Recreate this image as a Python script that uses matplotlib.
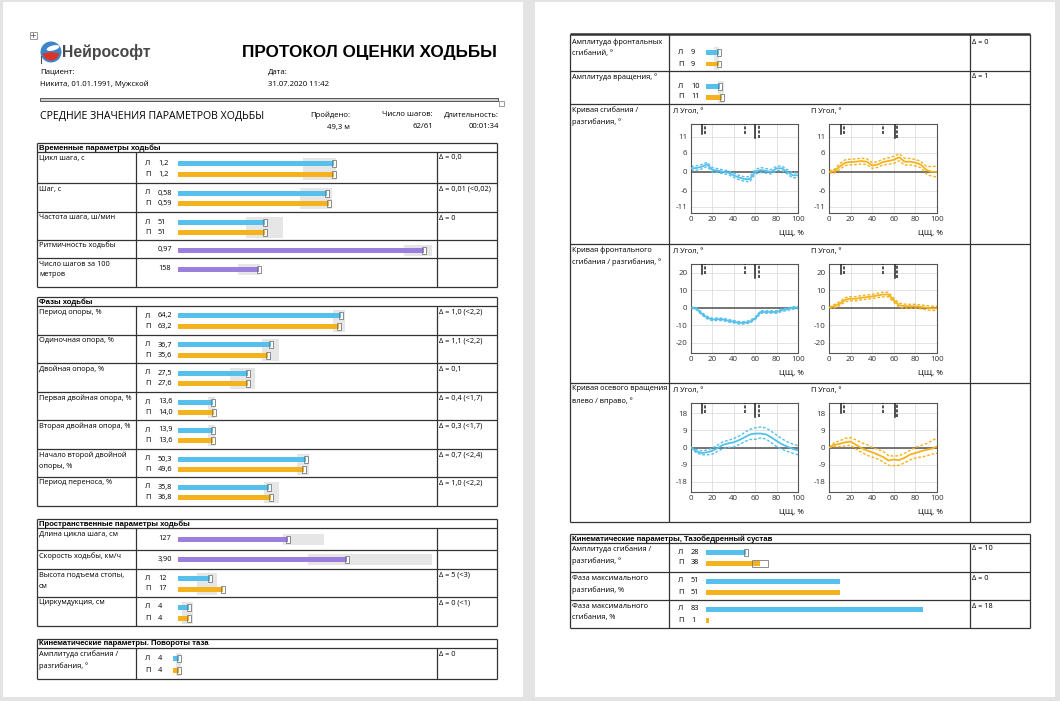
import matplotlib
matplotlib.use("Agg")
import matplotlib.pyplot as plt
from matplotlib.patches import Rectangle, Circle, Wedge, Ellipse

plt.rcParams['font.family'] = ['Open Sans', 'Noto Sans', 'DejaVu Sans']
plt.rcParams['axes.unicode_minus'] = False

# ---- данные: временные параметры
time_labels = ["Цикл шага, с", "Шаг, с", "Частота шага, ш/мин", "Ритмичность ходьбы", "Число шагов за 100\nметров"]
time_left = [1.2, 0.58, 51, 0.97, 158]
time_right = [1.2, 0.59, 51, None, None]
time_dec = [1, 2, 0, 2, 0]
time_scale = [1.95, 0.99, 149, 1.0, 495]
time_norm = [(0.96, 1.21), (0.475, 0.60), (40, 61.5), (0.89, 1.0), (117, 160)]
time_delta = ["Δ = 0,0", "Δ = 0,01 (<0,02)", "Δ = 0", "", ""]

# ---- фазы ходьбы
phase_labels = ["Период опоры, %", "Одиночная опора, %", "Двойная опора, %", "Первая двойная опора, %",
                "Вторая двойная опора, %", "Начало второй двойной\nопоры, %", "Период переноса, %"]
phase_left = [64.2, 36.7, 27.5, 13.6, 13.9, 50.3, 35.8]
phase_right = [63.2, 35.6, 27.6, 14.0, 13.6, 49.6, 36.8]
phase_norm = [(61, 65.7), (33, 39.8), (20.5, 30.3), (12, 14.7), (12, 14.7), (47, 51.6), (34, 39.8)]
phase_delta = ["Δ = 1,0 (<2,2)", "Δ = 1,1 (<2,2)", "Δ = 0,1", "Δ = 0,4 (<1,7)",
               "Δ = 0,3 (<1,7)", "Δ = 0,7 (<2,4)", "Δ = 1,0 (<2,2)"]

# ---- пространственные параметры
space_labels = ["Длина цикла шага, см", "Скорость ходьбы, км/ч", "Высота подъема стопы,\nсм", "Циркумдукция, см"]
space_left = [127, 3.90, 12, 4]
space_right = [None, None, 17, 4]
space_dec = [0, 2, 0, 0]
space_scale = [293, 5.86, 95, 92]
space_norm = [(121, 168), (3.0, 5.86), (7, 14.6), (1.5, 5.4)]
space_delta = ["", "", "Δ = 5 (<3)", "Δ = 0 (<1)"]

# ---- повороты таза
pelvis_labels = ["Амплитуда сгибания /\nразгибания, °", "Амплитуда фронтальных\nсгибаний, °", "Амплитуда вращения, °"]
pelvis_left = [4, 9, 10]
pelvis_right = [4, 9, 11]
pelvis_norm = [(2, 5.5), (6, 9.3), (8.5, 12.7)]
pelvis_delta = ["Δ = 0", "Δ = 0", "Δ = 1"]

# ---- тазобедренный сустав
hip_labels = ["Амплитуда сгибания /\nразгибания, °", "Фаза максимального\nразгибания, %", "Фаза максимального\nсгибания, %"]
hip_left = [28, 51, 83]
hip_right = [38, 51, 1]
hip_scale = [185, 100, 100]
hip_spread_right = [5.6, None, None]
hip_delta = ["Δ = 10", "Δ = 0", "Δ = 18"]

# ---- кривые (ЦШ, %)
pct = [0, 5, 10, 15, 20, 25, 30, 35, 40, 45, 50, 55, 60, 65, 70, 75, 80, 85, 90, 95, 100]
flex_l = [1.1, 1.2, 1.6, 2.4, 0.6, 0.4, 0.0, -0.3, -1.1, -1.8, -2.3, -2.3, 0.0, 0.6, 0.3, 0.0, 1.1, 1.1, 0.0, -1.1, -1.1]
flex_l_hi = [1.7, 1.9, 2.3, 3.0, 1.3, 1.0, 0.6, 0.3, -0.4, -1.1, -1.6, -1.5, 0.7, 1.4, 1.0, 0.7, 1.8, 1.8, 0.7, -0.3, -0.4]
flex_l_lo = [0.5, 0.5, 0.9, 1.7, -0.1, -0.2, -0.6, -0.9, -1.8, -2.5, -3.0, -3.1, -0.7, -0.2, -0.4, -0.7, 0.4, 0.4, -0.7, -1.9, -1.8]
flex_r = [0.0, 0.2, 1.7, 2.9, 3.1, 3.2, 3.4, 3.2, 2.0, 2.3, 3.1, 3.4, 3.8, 4.6, 3.2, 3.2, 2.9, 2.3, 0.6, 0.0, 0.0]
flex_r_hi = [0.3, 0.8, 2.6, 3.8, 4.0, 4.1, 4.3, 4.1, 2.9, 3.2, 4.0, 4.4, 4.9, 5.7, 4.3, 4.2, 3.9, 3.3, 1.8, 1.6, 1.8]
flex_r_lo = [-0.3, -0.4, 0.8, 2.0, 2.2, 2.3, 2.5, 2.3, 1.1, 1.4, 2.2, 2.4, 2.7, 3.5, 2.1, 2.2, 1.9, 1.3, -0.6, -1.4, -1.6]

front_l = [0.0, -0.6, -3.4, -5.7, -6.8, -6.6, -6.8, -7.5, -8.1, -8.7, -8.7, -8.1, -6.2, -2.5, -2.5, -2.5, -2.5, -1.5, -0.9, -0.2, 0.0]
front_l_hi = [0.3, 0.0, -2.7, -5.0, -6.1, -5.9, -6.1, -6.8, -7.4, -8.0, -8.0, -7.4, -5.5, -1.8, -1.8, -1.8, -1.8, -0.8, -0.2, 0.5, 0.6]
front_l_lo = [-0.3, -1.2, -4.1, -6.4, -7.5, -7.3, -7.5, -8.2, -8.8, -9.4, -9.4, -8.8, -6.9, -3.2, -3.2, -3.2, -3.2, -2.2, -1.6, -0.9, -0.6]
front_r = [0.0, 0.8, 2.3, 4.5, 5.1, 5.1, 5.7, 6.0, 6.4, 7.0, 7.5, 7.5, 4.2, 1.3, 0.9, 0.8, 0.8, 0.4, 0.0, -0.4, -0.4]
front_r_hi = [0.3, 1.8, 3.4, 5.7, 6.3, 6.3, 6.9, 7.2, 7.6, 8.3, 8.8, 8.8, 5.4, 2.5, 2.0, 1.9, 1.9, 1.5, 1.2, 0.8, 0.8]
front_r_lo = [-0.3, -0.2, 1.2, 3.3, 3.9, 3.9, 4.5, 4.8, 5.2, 5.7, 6.2, 6.2, 3.0, 0.1, -0.2, -0.3, -0.3, -0.7, -1.2, -1.6, -1.6]

rot_l = [0.0, -2.0, -2.9, -2.5, -1.7, -0.3, 1.4, 2.2, 2.7, 3.9, 5.3, 6.8, 7.3, 7.3, 6.9, 5.3, 3.4, 1.7, 0.5, -0.7, -1.5]
rot_l_hi = [0.0, -1.2, -1.7, -1.3, -0.3, 1.3, 3.0, 3.8, 4.7, 6.0, 7.8, 9.5, 10.3, 10.7, 10.3, 8.5, 6.5, 4.5, 3.0, 1.8, 1.0]
rot_l_lo = [0.0, -2.8, -3.8, -3.8, -3.5, -2.0, -0.5, 0.0, 0.3, 1.5, 3.0, 4.2, 4.3, 5.0, 4.5, 2.5, 0.5, -1.0, -2.0, -3.0, -3.8]
rot_r = [0.0, 1.4, 1.9, 2.7, 3.1, 1.4, -0.3, -1.5, -2.5, -3.7, -4.9, -6.8, -6.3, -6.6, -5.4, -3.7, -2.9, -2.0, -1.2, -0.7, 0.5]
rot_r_hi = [0.0, 2.5, 3.5, 4.8, 5.2, 4.0, 2.5, 1.5, 0.0, -1.0, -2.0, -4.2, -4.5, -4.3, -3.0, -1.5, 0.0, 1.0, 2.0, 3.5, 5.0]
rot_r_lo = [0.0, 0.5, 0.5, 0.8, 1.2, -0.8, -2.5, -4.0, -5.0, -6.0, -7.5, -9.3, -9.5, -9.3, -8.0, -6.5, -5.5, -5.0, -4.5, -3.5, -3.0]

marks_l = [(10, '-', False), (13, '--', False), (50, '--', False), (60, '-', True), (64, '--', True)]
marks_r = [(11, '-', False), (14, '--', False), (50, '--', False), (61, '-', True), (63, '--', True)]

BLUE = '#56c0ec'
ORANGE = '#f4b21d'
PURPLE = '#9b7fdc'
NORM = '#e6e6e6'
LINE = '#333333'
FS = 5.3
BOLD = ['Liberation Sans', 'DejaVu Sans']

W, H = 1060, 701
fig = plt.figure(figsize=(W / 100, H / 100), dpi=100)
fig.patch.set_facecolor('#e3e3e3')
bg = fig.add_axes([0, 0, 1, 1])
bg.set_xlim(0, W)
bg.set_ylim(H, 0)
bg.axis('off')
bg.add_patch(Rectangle((3, 2), 520, 695, facecolor='white', edgecolor='none'))
bg.add_patch(Rectangle((535, 2), 520, 695, facecolor='white', edgecolor='none'))


def fig_box(x0, y0, x1, y1):
    return [x0 / W, 1 - y1 / H, (x1 - x0) / W, (y1 - y0) / H]


def fmt(v, d):
    return f"{v:.{d}f}".replace('.', ',')


def hline(x0, x1, y, lw=0.9):
    bg.plot([x0, x1], [y, y], color=LINE, lw=lw, solid_capstyle='butt')


def vline(x, y0, y1, lw=0.9):
    bg.plot([x, x], [y0, y1], color=LINE, lw=lw, solid_capstyle='butt')


def table(x0, top, heights, header=None, top_lw=0.9):
    x1 = x0 + 460
    d1, d2 = x0 + 99, x0 + 400
    hline(x0, x1, top, top_lw)
    y = top
    if header:
        y = top + 9
        hline(x0, x1, y)
        bg.text(x0 + 2, top + 4.8, header, fontsize=5.6, fontweight='bold', family=BOLD, va='center')
    tops = []
    for h in heights:
        tops.append(y)
        y += h
        hline(x0, x1, y)
    vline(x0, top, y)
    vline(x1, top, y)
    vline(d1, tops[0], y)
    vline(d2, tops[0], y)
    return tops, d1, d2


def bar_row(d1, top, h, ys, vals, colors, scale, norm=None, spreads=None, start=42, width=254):
    ax = fig.add_axes(fig_box(d1 + start, top, d1 + start + width, top + h))
    ax.set_xlim(0, scale)
    ax.set_ylim(h, 0)
    ax.axis('off')
    if norm:
        ax.add_patch(Rectangle((norm[0], ys[0] - 5.5), norm[1] - norm[0], ys[-1] - ys[0] + 11,
                               facecolor=NORM, edgecolor='none', zorder=0))
    min_half = 2.0 * scale / width
    for i, (y, v, c) in enumerate(zip(ys, vals, colors)):
        ax.barh(y, v, height=5, left=0, color=c, zorder=2)
        sp = spreads[i] if spreads else 0
        if sp is None:
            continue
        half = max(sp, min_half)
        ax.add_patch(Rectangle((v - half, y - 3.5), 2 * half, 7, facecolor='white',
                               edgecolor='none', zorder=1))
        ax.add_patch(Rectangle((v - half, y - 3.5), 2 * half, 7, facecolor='none',
                               edgecolor='#7a7a7a', lw=0.6, zorder=3))


def row_texts(x0, top, label, d1, d2, delta, ys, lv, rv, label_dy=2.5):
    bg.text(x0 + 2, top + label_dy, label, fontsize=FS, va='top', linespacing=1.8)
    if delta:
        bg.text(d2 + 2, top + label_dy, delta, fontsize=FS, va='top')
    if rv is None:
        bg.text(d1 + 22, ys[0], lv, fontsize=FS, va='center')
    else:
        for y, s, v in zip(ys, ["Л", "П"], [lv, rv]):
            bg.text(d1 + 9, y, s, fontsize=FS, va='center')
            bg.text(d1 + 22, y, v, fontsize=FS, va='center')


# ---------------- левая страница: шапка
bg.add_patch(Rectangle((29.5, 31.5), 7, 7, facecolor='white', edgecolor='#888', lw=0.6))
bg.plot([31, 35], [35, 35], color='#666', lw=0.6)
bg.plot([33, 33], [33, 37], color='#666', lw=0.6)
bg.add_patch(Circle((51, 52), 10.5, facecolor='#3d85c6', edgecolor='none'))
bg.add_patch(Wedge((51, 52), 8.5, 10, 170, facecolor='#d8342c', edgecolor='none'))
bg.add_patch(Ellipse((53, 48), 13, 5, angle=-15, facecolor='white', edgecolor='none'))
bg.plot([40.5, 40.5], [56, 63], color='#555', lw=0.8)
bg.text(62, 52.5, "Нейрософт", fontsize=11.3, fontweight='bold', family=BOLD, color='#474747', va='center')
bg.text(497, 53, "ПРОТОКОЛ ОЦЕНКИ ХОДЬБЫ", fontsize=12.3, fontweight='bold', family=BOLD,
        ha='right', va='center')
bg.text(40, 72, "Пациент:", fontsize=5.6, va='center')
bg.text(40, 84, "Никита, 01.01.1991, Мужской", fontsize=5.6, va='center')
bg.text(268, 72, "Дата:", fontsize=5.6, va='center')
bg.text(268, 84, "31.07.2020 11:42", fontsize=5.6, va='center')
bg.add_patch(Rectangle((40, 98), 458, 3, facecolor='#cfcfcf', edgecolor='#555', lw=0.7))
bg.add_patch(Rectangle((499, 101), 4.5, 4.5, facecolor='white', edgecolor='#888', lw=0.6))
bg.text(40, 116, "СРЕДНИЕ ЗНАЧЕНИЯ ПАРАМЕТРОВ ХОДЬБЫ", fontsize=7.6, va='center')
for xr, t1, t2 in [(350, "Пройдено:", "49,3 м"), (433, "Число шагов:", "62/61"), (499, "Длительность:", "00:01:34")]:
    bg.text(xr, 115, t1, fontsize=5.6, ha='right', va='center')
    bg.text(xr, 127, t2, fontsize=5.6, ha='right', va='center')

# ---------------- таблица 1
X0 = 37
t1_h = [31, 29, 28, 18, 29]
tops, d1, d2 = table(X0, 143, t1_h, "Временные параметры ходьбы")
time_ys = [(11.5, 22.5), (10, 20.5), (10, 20.5), (10,), (11,)]
for i, top in enumerate(tops):
    ys = time_ys[i]
    if time_right[i] is None:
        vals, cols = [time_left[i]], [PURPLE]
        rv = None
    else:
        vals, cols = [time_left[i], time_right[i]], [BLUE, ORANGE]
        rv = fmt(time_right[i], time_dec[i])
    bar_row(d1, top, t1_h[i], ys, vals, cols, time_scale[i], time_norm[i])
    row_texts(X0, top, time_labels[i], d1, d2, time_delta[i], [top + y for y in ys],
              fmt(time_left[i], time_dec[i]), rv)

# ---------------- таблица 2
ph_h = [29, 28, 29, 28, 29, 28, 29]
tops, d1, d2 = table(X0, 297, ph_h, "Фазы ходьбы")
for i, top in enumerate(tops):
    ys = (10, 20.5)
    bar_row(d1, top, ph_h[i], ys, [phase_left[i], phase_right[i]], [BLUE, ORANGE], 100, phase_norm[i])
    row_texts(X0, top, phase_labels[i], d1, d2, phase_delta[i], [top + y for y in ys],
              fmt(phase_left[i], 1), fmt(phase_right[i], 1))

# ---------------- таблица 3
sp_h = [22, 19, 28, 29]
sp_ys = [(11,), (9,), (9, 20), (10, 21)]
tops, d1, d2 = table(X0, 519, sp_h, "Пространственные параметры ходьбы")
for i, top in enumerate(tops):
    ys = sp_ys[i]
    if space_right[i] is None:
        vals, cols, rv = [space_left[i]], [PURPLE], None
    else:
        vals, cols = [space_left[i], space_right[i]], [BLUE, ORANGE]
        rv = fmt(space_right[i], space_dec[i])
    bar_row(d1, top, sp_h[i], ys, vals, cols, space_scale[i], space_norm[i])
    row_texts(X0, top, space_labels[i], d1, d2, space_delta[i], [top + y for y in ys],
              fmt(space_left[i], space_dec[i]), rv)

# ---------------- таблица 4 (таз, начало)
tops, d1, d2 = table(X0, 639, [31], "Кинематические параметры. Повороты таза")
ys = (10, 22.5)
bar_row(d1, tops[0], 31, ys, [pelvis_left[0], pelvis_right[0]], [BLUE, ORANGE], 185, pelvis_norm[0],
        start=37, width=262)
row_texts(X0, tops[0], pelvis_labels[0], d1, d2, pelvis_delta[0], [tops[0] + y for y in ys],
          str(pelvis_left[0]), str(pelvis_right[0]))

# ---------------- правая страница: продолжение таблицы таза
RX = 570
r_h = [37, 33, 140, 139, 139]
tops, d1, d2 = table(RX, 34, r_h, None, top_lw=1.8)
pel_ys = [(18, 30), (15, 26)]
for k in range(2):
    i = k + 1
    top = tops[k]
    bar_row(d1, top, r_h[k], pel_ys[k], [pelvis_left[i], pelvis_right[i]], [BLUE, ORANGE], 185,
            pelvis_norm[i], start=37, width=262)
    row_texts(RX, top, pelvis_labels[i], d1, d2, pelvis_delta[i], [top + y for y in pel_ys[k]],
              str(pelvis_left[i]), str(pelvis_right[i]), label_dy=5 if k == 0 else 2.5)

curve_labels = ["Кривая сгибания /\nразгибания, °", "Кривая фронтального\nсгибания / разгибания, °",
                "Кривая осевого вращения\nвлево / вправо, °"]
curve_sets = [
    (flex_l, flex_l_lo, flex_l_hi, flex_r, flex_r_lo, flex_r_hi, (-13, 15.1), [-11, -6, 0, 6, 11]),
    (front_l, front_l_lo, front_l_hi, front_r, front_r_lo, front_r_hi, (-26, 25), [-20, -10, 0, 10, 20]),
    (rot_l, rot_l_lo, rot_l_hi, rot_r, rot_r_lo, rot_r_hi, (-23.3, 23.3), [-18, -9, 0, 9, 18]),
]


def curve_plot(x0, x1, top, mean, lo, hi, color, ylim, yticks, marks, title):
    ax = fig.add_axes(fig_box(x0, top + 20, x1, top + 109))
    ax.axhline(0, color='#6a6a6a', lw=1.3, zorder=1)
    ax.plot(pct, lo, color=color, lw=1.0, ls=(0, (2.0, 1.3)), zorder=2)
    ax.plot(pct, hi, color=color, lw=1.0, ls=(0, (2.0, 1.3)), zorder=2)
    ax.plot(pct, mean, color=color, lw=1.3, zorder=3)
    ax.set_xlim(0, 100)
    ax.set_ylim(*ylim)
    ax.set_xticks([0, 20, 40, 60, 80, 100])
    ax.set_yticks(yticks)
    ax.grid(True, color='#dedede', lw=0.6)
    ax.set_axisbelow(True)
    ax.tick_params(length=0, labelsize=5.8, pad=2.5, colors='#333333')
    for s in ax.spines.values():
        s.set_color('#555555')
        s.set_linewidth(0.8)
    for pos, style, long in marks:
        ax.axvline(pos, ymin=0.84 if long else 0.89, ymax=1, color='#222222', lw=1.1, ls=style,
                   dashes=(2, 1) if style == '--' else (None, None), zorder=4)
    bg.text(x0 - 18, top + 7.5, title, fontsize=FS, va='center')
    bg.text(x1 + 6, top + 129, "ЦЩ, %", fontsize=5.8, ha='right', va='center')


for k in range(3):
    top = tops[k + 2]
    bg.text(RX + 2, top + 2.5, curve_labels[k], fontsize=FS, va='top', linespacing=1.8)
    ml, mll, mlh, mr, mrl, mrh, yl, yt = curve_sets[k]
    curve_plot(691, 798, top, ml, mll, mlh, BLUE, yl, yt, marks_l, "Л Угол, °")
    curve_plot(829, 937, top, mr, mrl, mrh, ORANGE, yl, yt, marks_r, "П Угол, °")

# ---------------- таблица 5 (тазобедренный сустав)
hp_h = [29, 28, 28]
tops, d1, d2 = table(RX, 534, hp_h, "Кинематические параметры, Тазобедренный сустав")
for i, top in enumerate(tops):
    ys = (9, 20)
    spreads = [0, hip_spread_right[i]] if hip_spread_right[i] is not None else [None, None]
    bar_row(d1, top, hp_h[i], ys, [hip_left[i], hip_right[i]], [BLUE, ORANGE], hip_scale[i],
            None, spreads=spreads, start=37, width=262)
    row_texts(RX, top, hip_labels[i], d1, d2, hip_delta[i], [top + y for y in ys],
              str(hip_left[i]), str(hip_right[i]))

fig.savefig("out.png", dpi=100, facecolor=fig.get_facecolor())
